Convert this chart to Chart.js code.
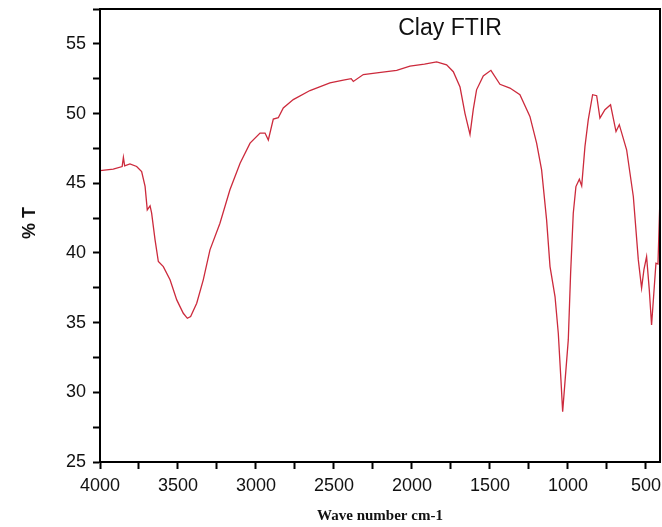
<!DOCTYPE html>
<html>
<head>
<meta charset="utf-8">
<script src="https://cdn.jsdelivr.net/npm/chart.js@4"></script>
<style>
  html, body { margin: 0; padding: 0; background: #fff; }
  #wrap { width: 662px; height: 527px; }
</style>
</head>
<body>
<div id="wrap"><canvas id="chart"></canvas></div>
<script>
// FTIR spectrum of clay
var wavenumbers = [4000, 3915, 3858, 3850, 3842, 3808, 3765, 3733, 3711, 3697, 3679, 3669, 3647, 3626,
    3594, 3551, 3508, 3466, 3440, 3419, 3380, 3338, 3295, 3231, 3167, 3102, 3038, 2974, 2942, 2921,
    2889, 2857, 2825, 2761, 2654, 2526, 2440, 2390, 2376, 2312, 2200, 2098, 2013, 1920, 1842, 1778,
    1735, 1692, 1660, 1628, 1607, 1586, 1543, 1494, 1436, 1372, 1308, 1244, 1201, 1169, 1137, 1115,
    1083, 1062, 1045, 1034, 1019, 998, 983, 966, 949, 927, 912, 891, 870, 842, 816, 795, 763, 727,
    692, 671, 624, 581, 549, 528, 513, 496, 479, 464, 449, 436, 423, 412];
var transmittance = [45.91, 46.01, 46.2, 46.85, 46.25, 46.39, 46.2, 45.84, 44.77, 43.09, 43.38, 42.85, 40.94, 39.38,
    39.02, 38.07, 36.63, 35.67, 35.31, 35.43, 36.39, 38.07, 40.22, 42.13, 44.53, 46.44, 47.88, 48.6, 48.6, 48.1,
    49.6, 49.7, 50.4, 51.0, 51.65, 52.2, 52.4, 52.5, 52.3, 52.8, 52.95, 53.1, 53.4, 53.55, 53.7, 53.5,
    53.0, 51.9, 50.0, 48.5, 50.3, 51.7, 52.7, 53.1, 52.1, 51.83, 51.35, 49.79, 47.88, 45.96, 42.37, 39.02,
    36.87, 34.24, 30.89, 28.61, 30.77, 33.76, 38.55, 42.85, 44.76, 45.29, 44.81, 47.64, 49.55, 51.35, 51.28, 49.67, 50.27, 50.63,
    48.71, 49.2, 47.4, 44.05, 39.5, 37.47, 38.8, 39.74, 37.4, 34.83, 37.2, 39.26, 39.2, 43.3];

var xMajorLabels = [4000, 3500, 3000, 2500, 2000, 1500, 1000, 500];
var yMajorLabels = [25, 30, 35, 40, 45, 50, 55];

var points = wavenumbers.map((w, i) => ({ x: w, y: transmittance[i] }));

// Frame round the plot, the title inside it and the y axis name
var framePlugin = {
    id: 'frame',
    afterDraw(chart) {
        var ctx = chart.ctx;
        var a = chart.chartArea;
        ctx.save();
        ctx.strokeStyle = '#000';
        ctx.lineWidth = 2;
        ctx.strokeRect(a.left, a.top, a.right - a.left, a.bottom - a.top);
        ctx.fillStyle = '#111';
        ctx.font = '23px "Liberation Sans", Arial, sans-serif';
        ctx.textAlign = 'center';
        ctx.textBaseline = 'middle';
        ctx.fillText('Clay FTIR', a.left + 350, a.top + 20);

        // y axis name, a little above the middle as in the original
        ctx.translate(30, a.top + 214);
        ctx.rotate(-Math.PI / 2);
        ctx.font = 'bold 18px "Liberation Sans", Arial, sans-serif';
        ctx.fillText('% T', 0, 0);
        ctx.restore();
    }
};

var tickFont = { family: '"Liberation Sans", Arial, sans-serif', size: 18 };

new Chart(document.getElementById('chart'), {
    type: 'line',
    data: {
        datasets: [{
            data: points,
            borderColor: '#cc2a3c',
            borderWidth: 1.3,
            pointRadius: 0,
            tension: 0,
            fill: false
        }]
    },
    options: {
        responsive: true,
        maintainAspectRatio: false,
        animation: false,
        layout: { padding: { top: 9, right: 2, left: 0, bottom: 0 } },
        plugins: { legend: { display: false }, tooltip: { enabled: false } },
        scales: {
            x: {
                type: 'linear',
                reverse: true,
                min: 410,
                max: 4000,
                afterFit: (scale) => {
                    scale.height = 65;
                    scale.paddingLeft = 0;
                    scale.paddingRight = 0;
                },
                border: { display: true, color: '#000', width: 2 },
                grid: {
                    drawOnChartArea: false,
                    drawTicks: true,
                    tickLength: 7,
                    tickColor: '#000',
                    tickWidth: 2
                },
                ticks: {
                    stepSize: 250,
                    autoSkip: false,
                    includeBounds: false,
                    maxRotation: 0,
                    padding: 6,
                    color: '#111',
                    font: tickFont,
                    callback: (v) => xMajorLabels.includes(v) ? String(v) : ''
                },
                title: {
                    display: true,
                    text: 'Wave number cm-1',
                    color: '#111',
                    font: { family: '"Liberation Serif", "Times New Roman", serif', size: 15, weight: 'bold' },
                    padding: { top: 8, bottom: 2 }
                }
            },
            y: {
                min: 25,
                max: 57.5,
                afterFit: (scale) => {
                    scale.width = 100;
                    scale.paddingTop = 0;
                    scale.paddingBottom = 0;
                },
                border: { display: true, color: '#000', width: 2 },
                grid: {
                    drawOnChartArea: false,
                    drawTicks: true,
                    tickLength: 7,
                    tickColor: '#000',
                    tickWidth: 2
                },
                ticks: {
                    stepSize: 2.5,
                    autoSkip: false,
                    includeBounds: false,
                    padding: 7,
                    color: '#111',
                    font: tickFont,
                    callback: (v) => yMajorLabels.includes(v) ? String(v) : ''
                }
            }
        }
    },
    plugins: [framePlugin]
});
</script>
</body>
</html>
